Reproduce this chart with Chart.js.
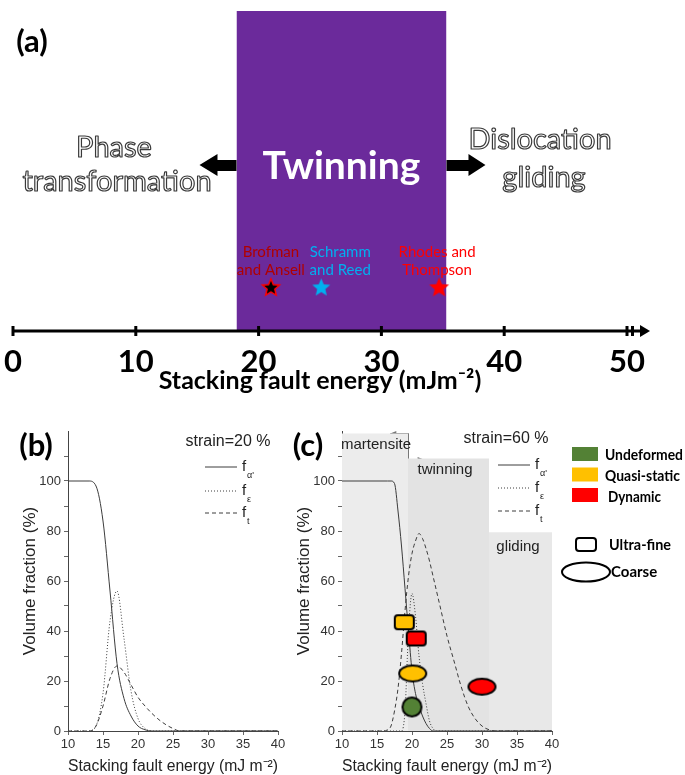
<!DOCTYPE html>
<html>
<head>
<meta charset="utf-8">
<script src="https://cdn.jsdelivr.net/npm/chart.js@4.4.1/dist/chart.umd.min.js"></script>
<style>
body{margin:0;background:#fff;width:685px;height:775px;position:relative;overflow:hidden}
canvas{position:absolute}
#ca{left:0;top:0}
#cb{left:0;top:395px}
#cc{left:274px;top:395px}
</style>
</head>
<body>
<canvas id="ca" width="685" height="395"></canvas>
<canvas id="cb" width="340" height="380"></canvas>
<canvas id="cc" width="411" height="380"></canvas>
<script>
// ---- panel (a) ----
const sfeTicksA = [0, 10, 20, 30, 40, 50];
const twinRange = [18.2, 35.3];
const refNames = [['Brofman', 'and Ansell'], ['Schramm', 'and Reed'], ['Rhodes and', 'Thompson']];
const refSfe = [21.0, 25.1, 34.7];
const refColors = ['#b00000', '#00b0f0', '#ff0000'];

// ---- panel (b), strain = 20 % ----
const sfeB   = [10, 12, 13, 14, 15, 16, 17, 18, 19, 20, 21, 22, 23, 24, 25, 26, 28, 30, 35, 40];
const alphaB = [100, 100, 100, 98, 84, 56, 27, 13, 6, 2, 0.5, 0, 0, 0, 0, 0, 0, 0, 0, 0];
const epsB   = [0, 0, 0, 2, 15, 44, 56, 37, 16, 5, 1, 0, 0, 0, 0, 0, 0, 0, 0, 0];
const twinB  = [0, 0, 0, 2, 10, 21, 26, 23.5, 18.5, 13.5, 10, 7, 4.5, 2.5, 1, 0, 0, 0, 0, 0];

// ---- panel (c), strain = 60 % ----
const sfeC   = [10, 16, 16.5, 17, 17.5, 18, 18.5, 19, 19.5, 20, 20.5, 21, 21.5, 22, 22.5, 23, 23.5, 24, 25, 26, 27, 28, 29, 30, 31, 32, 35, 40];
const alphaC = [100, 100, 100, 100, 99, 88, 74, 57, 40, 24, 15, 10, 6, 3, 1, 0, 0, 0, 0, 0, 0, 0, 0, 0, 0, 0, 0, 0];
const epsC   = [0, 0, 0, 0, 0, 0, 0, 8, 40, 55, 46, 30, 19, 11, 4, 1, 0, 0, 0, 0, 0, 0, 0, 0, 0, 0, 0, 0];
const twinC  = [0, 0, 0.5, 2, 8, 17, 31, 48, 62, 71, 76, 79, 77, 73, 68, 62, 56, 50, 38, 28, 18, 10, 5, 2, 0.5, 0, 0, 0];

const regionNames = ['martensite', 'twinning', 'gliding'];
const regionFrom  = [10, 18.86, 31];
const regionTo    = [19.43, 31, 40];
const regionTop   = [119, 109, 79.5];
const regionArrowTo = [16.9, 21.66];

const markerSfe   = [18.9, 20.6, 20.1, 30.0, 20.0];
const markerVol   = [43.5, 37, 23, 17.7, 9.6];
const markerLoad  = ['Quasi-static', 'Dynamic', 'Quasi-static', 'Dynamic', 'Undeformed'];
const markerGrain = ['Ultra-fine', 'Ultra-fine', 'Coarse', 'Coarse', 'Coarse'];

const loadNames  = ['Undeformed', 'Quasi-static', 'Dynamic'];
const loadColors = ['#538135', '#ffc000', '#ff0000'];

const sfeTicksBC = [10, 15, 20, 25, 30, 35, 40];
const volTicks = [0, 10, 20, 30, 40, 50, 60, 70, 80, 90, 100, 110];

// ---- helpers ----
function makeStar(r, fill, stroke) {
  const c = document.createElement('canvas');
  const s = Math.ceil(r * 2 + 4);
  c.width = s; c.height = s;
  const g = c.getContext('2d');
  g.beginPath();
  for (let i = 0; i < 10; i++) {
    const rr = i % 2 ? r * 0.45 : r;
    const a = -Math.PI / 2 + i * Math.PI / 5;
    g.lineTo(s / 2 + rr * Math.cos(a), s / 2 + rr * Math.sin(a) + 1);
  }
  g.closePath();
  g.fillStyle = fill; g.fill();
  if (stroke) { g.strokeStyle = stroke; g.lineWidth = 1.5; g.stroke(); }
  return c;
}

function makeMarker(w, h, fill, shape) {
  const c = document.createElement('canvas');
  c.width = w + 4; c.height = h + 4;
  const g = c.getContext('2d');
  g.beginPath();
  if (shape === 'rect') g.roundRect(2, 2, w, h, 3);
  else g.ellipse(c.width / 2, c.height / 2, w / 2, h / 2, 0, 0, Math.PI * 2);
  g.fillStyle = fill; g.fill();
  g.strokeStyle = '#000'; g.lineWidth = 2; g.stroke();
  return c;
}

function txt(ctx, s, x, y, font, color, align, maxW) {
  ctx.font = font;
  ctx.fillStyle = color;
  ctx.textAlign = align || 'center';
  ctx.textBaseline = 'middle';
  if (maxW) ctx.fillText(s, x, y, maxW);
  else ctx.fillText(s, x, y);
}

function hollow(ctx, s, x, y) {
  ctx.font = '29px Lato';
  ctx.textAlign = 'center';
  ctx.textBaseline = 'middle';
  ctx.lineJoin = 'round';
  ctx.fillStyle = '#fff';
  ctx.fillText(s, x, y);
  ctx.strokeStyle = '#3a3a3a';
  ctx.lineWidth = 1.2;
  ctx.strokeText(s, x, y);
}

// ---- chart (a) ----
const starLevel = 13.8;
const starImgs = [makeStar(9, '#000', '#ff0000'), makeStar(9.5, '#00b0f0'), makeStar(10.5, '#ff0000')];

const panelA = {
  id: 'panelA',
  afterDraw(chart) {
    const ctx = chart.ctx, xs = chart.scales.x;
    const yAx = chart.chartArea.bottom;
    ctx.save();
    // axis with arrow
    ctx.strokeStyle = '#000'; ctx.lineWidth = 3;
    ctx.beginPath(); ctx.moveTo(xs.getPixelForValue(0) - 1, yAx); ctx.lineTo(642, yAx); ctx.stroke();
    ctx.beginPath(); ctx.moveTo(640, yAx - 6); ctx.lineTo(650, yAx); ctx.lineTo(640, yAx + 6); ctx.closePath();
    ctx.fillStyle = '#000'; ctx.fill();
    xs.ticks.concat([{value: 50.45}]).forEach(t => {
      const px = xs.getPixelForValue(t.value);
      ctx.beginPath(); ctx.moveTo(px, yAx - 5); ctx.lineTo(px, yAx + 5); ctx.stroke();
    });
    // arrows from the twinning box
    const bl = xs.getPixelForValue(twinRange[0]), br = xs.getPixelForValue(twinRange[1]);
    ctx.beginPath();
    ctx.moveTo(bl, 160); ctx.lineTo(bl - 19, 160); ctx.lineTo(bl - 19, 154); ctx.lineTo(bl - 37, 165);
    ctx.lineTo(bl - 19, 176); ctx.lineTo(bl - 19, 171); ctx.lineTo(bl, 171); ctx.closePath(); ctx.fill();
    ctx.beginPath();
    ctx.moveTo(br, 160); ctx.lineTo(br + 22, 160); ctx.lineTo(br + 22, 154); ctx.lineTo(br + 39, 165);
    ctx.lineTo(br + 22, 176); ctx.lineTo(br + 22, 171); ctx.lineTo(br, 171); ctx.closePath(); ctx.fill();
    // texts
    txt(ctx, '(a)', 32, 42, 'bold 31px Lato', '#000');
    txt(ctx, 'Twinning', (bl + br) / 2, 166, 'bold 39px Lato', '#fff');
    hollow(ctx, 'Phase', 114, 148);
    hollow(ctx, 'transformation', 117, 182);
    hollow(ctx, 'Dislocation', 540, 140);
    hollow(ctx, 'gliding', 544, 178);
    const labelDx = [0, 19, -2];
    refNames.forEach((lines, i) => {
      const px = xs.getPixelForValue(refSfe[i]) + labelDx[i];
      txt(ctx, lines[0], px, 252, '15px Lato', refColors[i]);
      txt(ctx, lines[1], px, 270, '15px Lato', refColors[i]);
    });
    ctx.restore();
  }
};

new Chart(document.getElementById('ca'), {
  type: 'line',
  data: {
    datasets: [
      {
        data: refSfe.map((x, i) => ({x: x, y: starLevel})),
        showLine: false,
        pointStyle: starImgs,
        pointRadius: 10
      },
      {
        data: twinRange.map(x => ({x: x, y: 100})),
        fill: 'origin',
        backgroundColor: '#6b2a9b',
        borderWidth: 0,
        pointRadius: 0
      }
    ]
  },
  options: {
    responsive: false,
    animation: false,
    events: [],
    layout: {padding: {left: 13, right: 58, top: 0, bottom: 0}},
    plugins: {legend: {display: false}, tooltip: {enabled: false}},
    scales: {
      x: {
        type: 'linear', min: 0, max: 50,
        afterBuildTicks: s => { s.ticks = sfeTicksA.map(v => ({value: v})); },
        afterFit: s => { s.height = 64; },
        border: {display: false},
        grid: {display: false},
        ticks: {font: {family: 'Lato', weight: 'bold', size: 31}, color: '#000', padding: 4, maxRotation: 0},
        title: {display: true, text: 'Stacking fault energy (mJm⁻²)', font: {family: 'Lato', weight: 'bold', size: 25}, color: '#000', padding: {top: 0, bottom: -1}}
      },
      y: {min: 0, max: 100, display: false}
    }
  },
  plugins: [panelA]
});

// ---- charts (b) and (c) ----
function curve(xs, ys, dash) {
  return {
    data: xs.map((x, i) => ({x: x, y: ys[i]})),
    borderColor: '#3c3c3c',
    borderWidth: 1,
    borderDash: dash,
    pointRadius: 0,
    cubicInterpolationMode: 'monotone',
    order: 1
  };
}

function panelScales() {
  return {
    x: {
      type: 'linear', min: 10, max: 40,
      afterBuildTicks: s => { s.ticks = sfeTicksBC.map(v => ({value: v})); },
      afterFit: s => { s.height = 44; },
      border: {color: '#444', width: 1},
      grid: {drawOnChartArea: false, tickLength: 4, color: '#666'},
      ticks: {font: {family: 'Liberation Sans', size: 13}, color: '#333', padding: 2, maxRotation: 0},
      title: {display: true, text: 'Stacking fault energy (mJ m⁻²)', font: {family: 'Liberation Sans', size: 16}, color: '#222', padding: {top: 0, bottom: -1}}
    },
    y: {
      type: 'linear', min: 0, max: 120,
      afterBuildTicks: s => { s.ticks = volTicks.map(v => ({value: v})); },
      afterFit: s => { s.width = 68; },
      border: {color: '#444', width: 1},
      grid: {drawOnChartArea: false, tickLength: 4, color: '#666'},
      ticks: {font: {family: 'Liberation Sans', size: 13}, color: '#333', padding: 3,
              callback: v => (v % 20 === 0 ? v : '')},
      title: {display: true, text: 'Volume fraction (%)', font: {family: 'Liberation Sans', size: 17}, color: '#222', padding: {top: 20}}
    }
  };
}

function drawCurveLegend(ctx, x0, x1, ys) {
  const subs = ['α\'', 'ε', 't'];
  const dashes = [[], [1, 2], [4, 3]];
  ys.forEach((y, i) => {
    ctx.save();
    ctx.strokeStyle = '#3c3c3c'; ctx.lineWidth = 1; ctx.setLineDash(dashes[i]);
    ctx.beginPath(); ctx.moveTo(x0, y); ctx.lineTo(x1, y); ctx.stroke();
    ctx.restore();
    txt(ctx, 'f', x1 + 5, y, '15px Liberation Sans', '#222', 'left');
    txt(ctx, subs[i], x1 + 10, y + 9, '9px Liberation Sans', '#222', 'left');
  });
}

new Chart(document.getElementById('cb'), {
  type: 'line',
  data: {datasets: [curve(sfeB, alphaB, []), curve(sfeB, epsB, [1, 2]), curve(sfeB, twinB, [4, 3])]},
  options: {
    responsive: false, animation: false, events: [],
    layout: {padding: {left: 0, right: 62, top: 36, bottom: 0}},
    plugins: {legend: {display: false}, tooltip: {enabled: false}},
    scales: panelScales()
  },
  plugins: [{
    id: 'panelB',
    afterDraw(chart) {
      const ctx = chart.ctx;
      txt(ctx, '(b)', 36, 51, 'bold 31px Lato', '#000');
      txt(ctx, 'strain=20 %', 228, 47, '16px Liberation Sans', '#222');
      drawCurveLegend(ctx, 205, 237, [72, 96, 118]);
    }
  }]
});

const regionColors = ['#ececec', '#e3e3e3', '#e8e8e8'];
const regionSets = regionNames.map((n, i) => ({
  data: [{x: regionFrom[i], y: regionTop[i]}, {x: regionTo[i], y: regionTop[i]}],
  fill: 'origin', backgroundColor: regionColors[i], borderWidth: 0, pointRadius: 0, order: 5 + i
}));

const markerImgs = markerSfe.map((x, i) => {
  const col = loadColors[loadNames.indexOf(markerLoad[i])];
  if (markerLoad[i] === 'Undeformed') return makeMarker(19, 19, col, 'ellipse');
  return markerGrain[i] === 'Ultra-fine' ? makeMarker(19, 14, col, 'rect') : makeMarker(27, 16, col, 'ellipse');
});

new Chart(document.getElementById('cc'), {
  type: 'line',
  data: {
    datasets: [
      {
        data: markerSfe.map((x, i) => ({x: x, y: markerVol[i]})),
        showLine: false, pointStyle: markerImgs, pointRadius: 10, order: 0
      },
      curve(sfeC, alphaC, []), curve(sfeC, epsC, [1, 2]), curve(sfeC, twinC, [4, 3])
    ].concat(regionSets)
  },
  options: {
    responsive: false, animation: false, events: [],
    layout: {padding: {left: 0, right: 133, top: 36, bottom: 0}},
    plugins: {legend: {display: false}, tooltip: {enabled: false}},
    scales: panelScales()
  },
  plugins: [{
    id: 'panelC',
    beforeDatasetsDraw(chart) {
      // boundaries between regions with arrows
      const ctx = chart.ctx, xs = chart.scales.x, ys = chart.scales.y;
      ctx.save();
      ctx.strokeStyle = '#777'; ctx.fillStyle = '#777'; ctx.lineWidth = 1;
      [[regionTo[0], regionTop[0], regionArrowTo[0]], [regionFrom[1], regionTop[1], regionArrowTo[1]]].forEach(b => {
        const px = Math.round(xs.getPixelForValue(b[0])) + 0.5;
        const py = Math.round(ys.getPixelForValue(b[1])) + 0.5;
        const ax = xs.getPixelForValue(b[2]);
        ctx.beginPath(); ctx.moveTo(px, ys.getPixelForValue(0)); ctx.lineTo(px, py); ctx.lineTo(ax, py); ctx.stroke();
        const d = ax < px ? 1 : -1;
        ctx.beginPath(); ctx.moveTo(ax, py); ctx.lineTo(ax + d * 6, py - 2.5); ctx.lineTo(ax + d * 6, py + 2.5); ctx.closePath(); ctx.fill();
      });
      ctx.restore();
    },
    afterDraw(chart) {
      const ctx = chart.ctx;
      txt(ctx, '(c)', 34, 51, 'bold 31px Lato', '#000');
      txt(ctx, 'strain=60 %', 232, 44, '16px Liberation Sans', '#222');
      drawCurveLegend(ctx, 224, 256, [70, 93, 116]);
      txt(ctx, regionNames[0], 102, 50, '15px Liberation Sans', '#222');
      txt(ctx, regionNames[1], 171, 75, '15px Liberation Sans', '#222');
      txt(ctx, regionNames[2], 244, 152, '15px Liberation Sans', '#222');
      const legendW = [78, 75, 53];
      loadNames.forEach((n, i) => {
        ctx.fillStyle = loadColors[i];
        ctx.fillRect(298, 52 + i * 20.5, 26, 14);
        txt(ctx, n, 331 + (i === 2 ? 3 : 0), 60 + i * 21, 'bold 15px Lato', '#000', 'left', legendW[i]);
      });
      ctx.save();
      ctx.strokeStyle = '#000'; ctx.lineWidth = 2;
      ctx.beginPath(); ctx.roundRect(302, 143, 20, 13, 3); ctx.stroke();
      ctx.beginPath(); ctx.ellipse(312, 177, 24, 9.5, 0, 0, Math.PI * 2); ctx.stroke();
      ctx.restore();
      txt(ctx, 'Ultra-fine', 335, 150, 'bold 15px Lato', '#000', 'left', 62);
      txt(ctx, 'Coarse', 337, 177, 'bold 15px Lato', '#000', 'left');
    }
  }]
});
</script>
</body>
</html>
